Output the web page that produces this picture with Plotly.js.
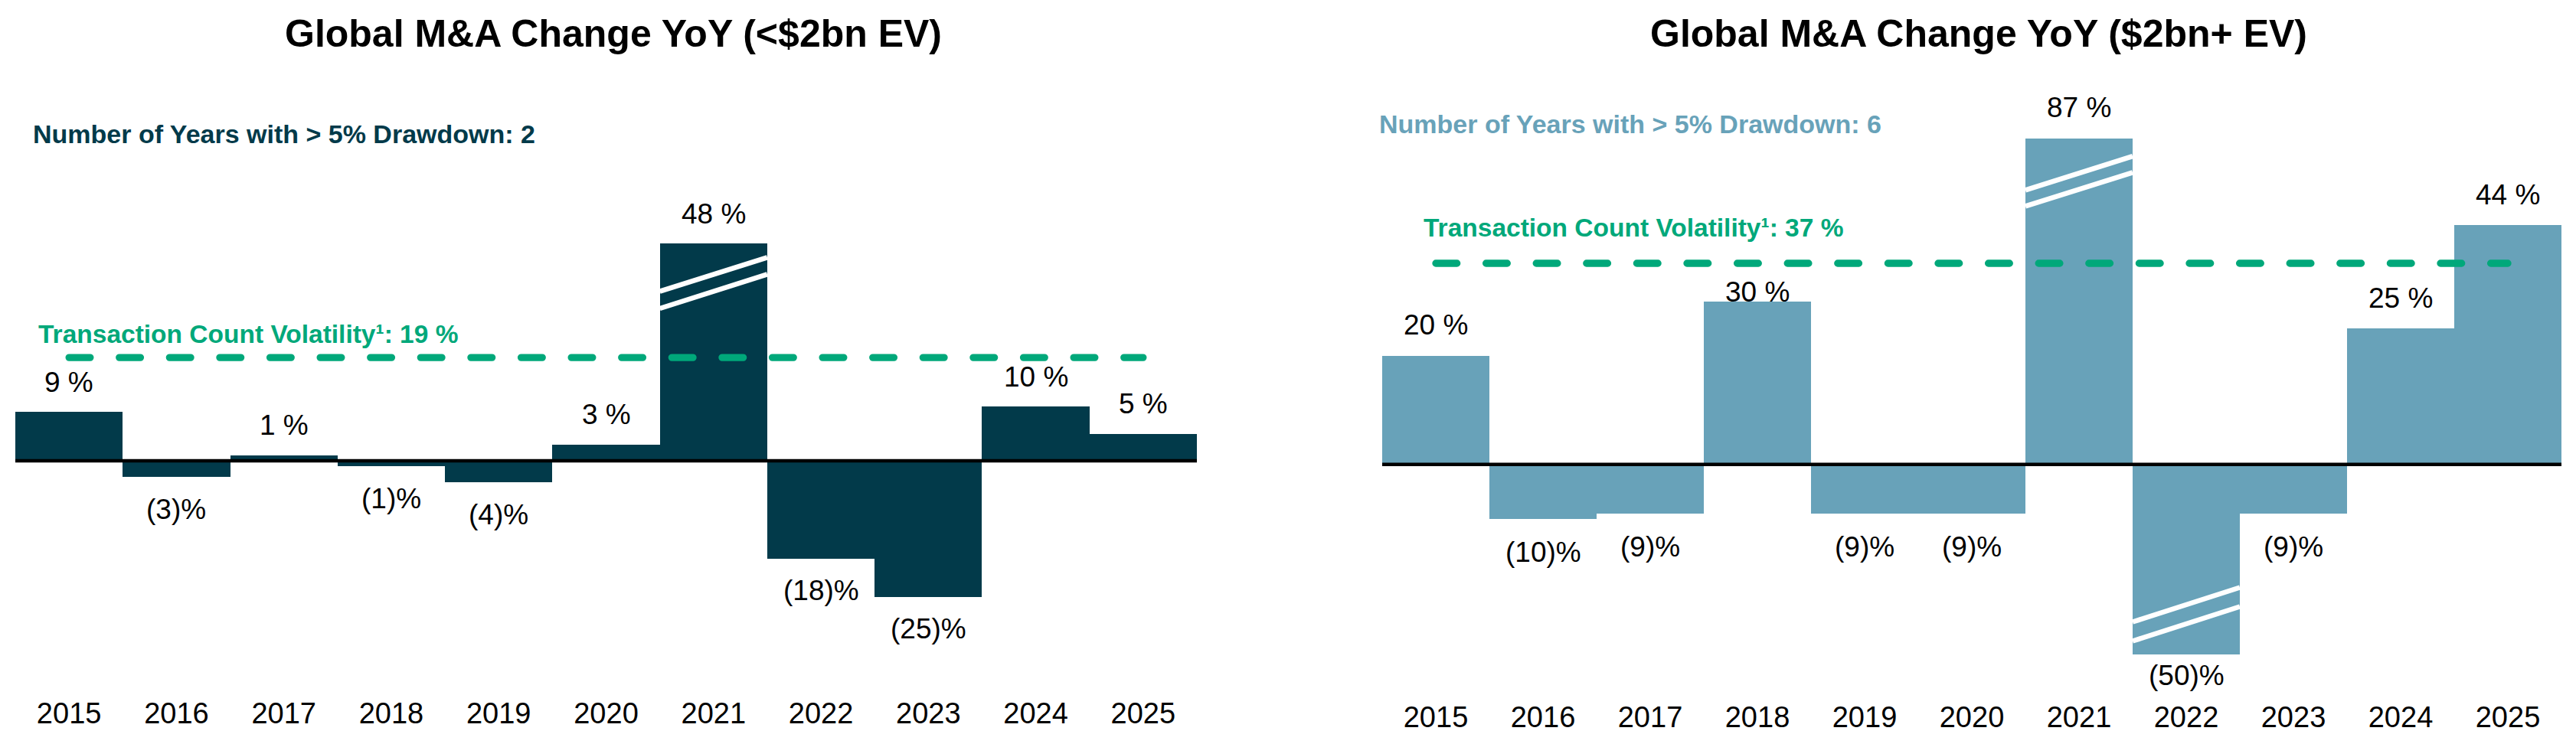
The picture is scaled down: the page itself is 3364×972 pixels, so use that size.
<!DOCTYPE html>
<html>
<head>
<meta charset="utf-8">
<script src="https://cdn.plot.ly/plotly-3.0.1.min.js"></script>
<style>
  html, body { margin: 0; padding: 0; background: #ffffff; }
  #chart { width: 3364px; height: 972px; }
  .scatterlayer .js-line { stroke-linecap: round; }
</style>
</head>
<body>
<div id="chart"></div>
<script>
// ---------------- DATA ----------------
const years = [2015, 2016, 2017, 2018, 2019, 2020, 2021, 2022, 2023, 2024, 2025];

const smallTitle = "Global M&A Change YoY (<$2bn EV)";
const smallChange = [9, -3, 1, -1, -4, 3, 48, -18, -25, 10, 5];
const smallVolatility = 19;
const smallDrawdownYears = 2;

const largeTitle = "Global M&A Change YoY ($2bn+ EV)";
const largeChange = [20, -10, -9, 30, -9, -9, 87, -50, -9, 25, 44];
const largeVolatility = 37;
const largeDrawdownYears = 6;

// ---------------- LAYOUT PARAMETERS ----------------
const W = 3364, H = 972;
const PX = 7.1;                       // pixels per percentage point
const FONT = "Liberation Sans, Arial, Helvetica, sans-serif";
const C_DARK = "#023a4a", C_LIGHT = "#68a2b9", C_GREEN = "#00a87a";

const panels = [
  { title: smallTitle, values: smallChange, vol: smallVolatility, dd: smallDrawdownYears,
    color: C_DARK, ddColor: C_DARK,
    xPx: [20, 1563], zeroPx: 602, capHi: 40, capLo: -1000,
    titleX: 801, titleY: 44.5, ddX: 41, ddY: 174.7, volX: 48, volY: 436.3,
    posShift: 39, negShift: -42, shiftOverride: {} },
  { title: largeTitle, values: largeChange, vol: largeVolatility, dd: largeDrawdownYears,
    color: C_LIGHT, ddColor: C_LIGHT,
    xPx: [1805, 3345], zeroPx: 606.7, capHi: 60, capLo: -35,
    titleX: 2584, titleY: 44.5, ddX: 1799, ddY: 162.3, volX: 1856.5, volY: 297.3,
    posShift: 40, negShift: -44, shiftOverride: { 2018: 12, 2022: -27 } }
];

const topPx = 100, botPx = 890;     // plot area for left panel (right is shifted by zero offset)

const data = [];
const annotations = [];
const shapes = [];
const layout = {
  width: W, height: H,
  margin: { l: 0, r: 0, t: 0, b: 0, pad: 0 },
  paper_bgcolor: "#ffffff", plot_bgcolor: "#ffffff",
  showlegend: false,
  hovermode: false,
  bargap: 0,
  font: { family: FONT, color: "#000000" }
};

panels.forEach((p, k) => {
  const xa = k === 0 ? "x" : "x2";
  const ya = k === 0 ? "y" : "y2";
  const dz = p.zeroPx - panels[0].zeroPx;
  const pTop = topPx + dz, pBot = botPx + dz;
  const yMax = (p.zeroPx - pTop) / PX;
  const yMin = -(pBot - p.zeroPx) / PX;

  layout[k === 0 ? "xaxis" : "xaxis2"] = {
    domain: [p.xPx[0] / W, p.xPx[1] / W],
    range: [years[0] - 0.5, years[years.length - 1] + 0.5],
    anchor: ya,
    tickmode: "array", tickvals: years, ticktext: years.map(String),
    tickfont: { family: FONT, size: 38, color: "#000000" },
    ticks: "", ticklabelstandoff: 16,
    showgrid: false, zeroline: false, showline: false, fixedrange: true
  };
  layout[k === 0 ? "yaxis" : "yaxis2"] = {
    domain: [1 - pBot / H, 1 - pTop / H],
    range: [yMin, yMax],
    anchor: xa,
    visible: false, showgrid: false, zeroline: false, fixedrange: true
  };

  const disp = p.values.map(v => Math.max(p.capLo, Math.min(p.capHi, v)));

  data.push({
    type: "bar", x: years, y: disp, xaxis: xa, yaxis: ya, width: 1,
    marker: { color: p.color, line: { width: 0 } },
    hoverinfo: "skip", cliponaxis: false
  });

  data.push({
    type: "scatter", mode: "lines",
    x: [years[0], years[years.length - 1]], y: [p.vol, p.vol],
    xaxis: xa, yaxis: ya,
    line: { color: C_GREEN, width: 9.3, dash: "27.7px,37.9px" },
    hoverinfo: "skip", cliponaxis: false
  });

  // zero line
  shapes.push({
    type: "line", xref: xa + " domain", x0: 0, x1: 1, yref: ya, y0: 0, y1: 0,
    line: { color: "#000000", width: 4.5 }, layer: "above"
  });

  // break marks on truncated bars
  p.values.forEach((v, i) => {
    let marks = null;
    if (v > p.capHi) {
      const off = k === 0 ? [[62.7, 18.4], [85, 40.4]] : [[67.7, 23.4], [88.7, 44.7]];
      marks = off.map(o => [p.capHi - o[0] / PX, p.capHi - o[1] / PX]);
    } else if (v < p.capLo) {
      const off = [[42.7, 87.7], [17.7, 62.7]];
      marks = off.map(o => [p.capLo + o[0] / PX, p.capLo + o[1] / PX]);
    }
    if (marks) {
      marks.forEach(m => shapes.push({
        type: "line", xref: xa, yref: ya,
        x0: years[i] - 0.5, x1: years[i] + 0.5, y0: m[0], y1: m[1],
        line: { color: "#ffffff", width: 6.5 }, layer: "above"
      }));
    }
  });

  // value labels
  p.values.forEach((v, i) => {
    const d = disp[i];
    let shift = v >= 0 ? p.posShift : p.negShift;
    if (p.shiftOverride[years[i]] !== undefined) shift = p.shiftOverride[years[i]];
    annotations.push({
      xref: xa, yref: ya, x: years[i], y: d, yshift: shift,
      xanchor: "center", yanchor: "middle", showarrow: false,
      text: v >= 0 ? v + " %" : "(" + (-v) + ")%",
      font: { family: FONT, size: 37, color: "#000000" }
    });
  });

  // title
  annotations.push({
    xref: "paper", yref: "paper", x: p.titleX / W, y: 1 - p.titleY / H,
    xanchor: "center", yanchor: "middle", showarrow: false,
    text: p.title,
    font: { family: FONT, size: 50, color: "#000000", weight: "bold" }
  });
  // drawdown note
  annotations.push({
    xref: "paper", yref: "paper", x: p.ddX / W, y: 1 - p.ddY / H,
    xanchor: "left", yanchor: "middle", showarrow: false,
    text: "Number of Years with > 5% Drawdown: " + p.dd,
    font: { family: FONT, size: 34, color: p.ddColor, weight: "bold" }
  });
  // volatility note
  annotations.push({
    xref: "paper", yref: "paper", x: p.volX / W, y: 1 - p.volY / H,
    xanchor: "left", yanchor: "middle", showarrow: false,
    text: "Transaction Count Volatility¹: " + p.vol + " %",
    font: { family: FONT, size: 33.5, color: C_GREEN, weight: "bold" }
  });
});

layout.annotations = annotations;
layout.shapes = shapes;

Plotly.newPlot("chart", data, layout, { staticPlot: true, displayModeBar: false });
</script>
</body>
</html>
